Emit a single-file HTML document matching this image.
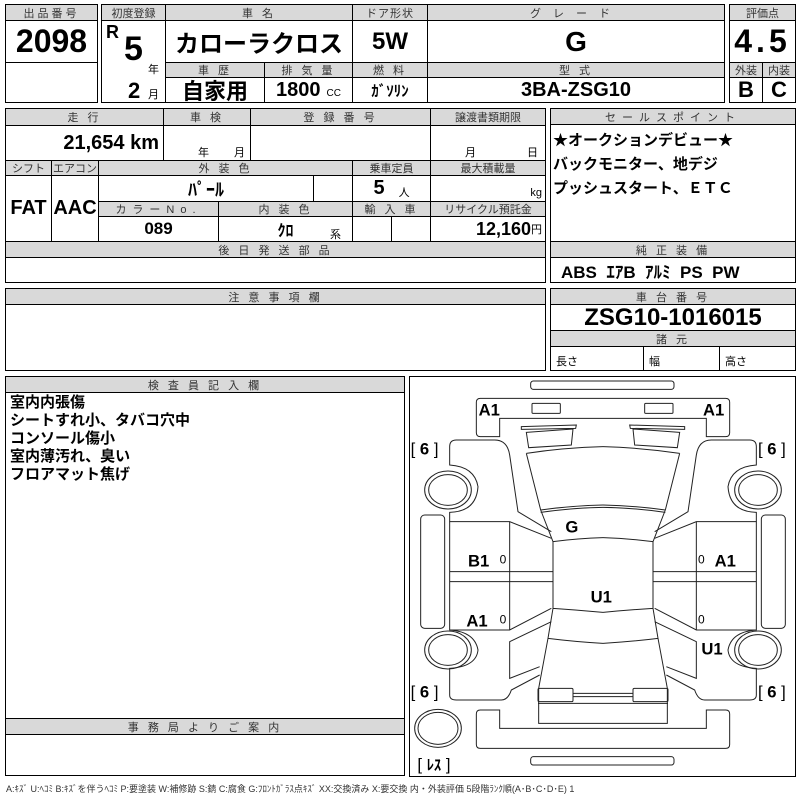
<!DOCTYPE html>
<html><head><meta charset="utf-8"><style>
body{margin:0;width:800px;height:800px;background:#fff;position:relative;overflow:hidden;font-family:"Liberation Sans","Noto Sans CJK JP",sans-serif;}
.c{position:absolute;border:1px solid #000;box-sizing:border-box;display:flex;align-items:center;justify-content:center;color:#000;white-space:nowrap;overflow:hidden}
.h{background:#d9d9d9;font-size:11px;color:#333;letter-spacing:3px}
.v{font-family:"Liberation Sans Narrow","Liberation Sans","Noto Sans CJK JP",sans-serif;font-weight:bold}
.t{position:absolute;white-space:nowrap;color:#000}
</style></head><body>
<div class="c h" style="left:5px;top:4px;width:93px;height:17px">出品番号</div>
<div class="c v" style="left:5px;top:20px;width:93px;height:43px;font-size:32px">2098</div>
<div class="c" style="left:5px;top:62px;width:93px;height:41px"></div>
<div class="c h" style="left:101px;top:4px;width:65px;height:17px;letter-spacing:0">初度登録</div>
<div class="c h" style="left:165px;top:4px;width:188px;height:17px">車 名</div>
<div class="c h" style="left:352px;top:4px;width:76px;height:17px;letter-spacing:1px">ドア形状</div>
<div class="c h" style="left:427px;top:4px;width:298px;height:17px;letter-spacing:12px">グレード</div>
<div class="c" style="left:101px;top:20px;width:65px;height:83px"></div>
<div class="t v" style="left:106px;top:22px;font-size:18px">R</div>
<div class="t v" style="left:124px;top:30px;font-size:34px">5</div>
<div class="t" style="left:148px;top:61px;font-size:11px">年</div>
<div class="t v" style="left:128px;top:78px;font-size:22px">2</div>
<div class="t" style="left:148px;top:86px;font-size:11px">月</div>
<div class="c v" style="left:165px;top:20px;width:188px;height:43px;font-size:24px">カローラクロス</div>
<div class="c v" style="left:352px;top:20px;width:76px;height:43px;font-size:24px">5W</div>
<div class="c v" style="left:427px;top:20px;width:298px;height:43px;font-size:28px">G</div>
<div class="c h" style="left:165px;top:62px;width:100px;height:16px">車 歴</div>
<div class="c h" style="left:264px;top:62px;width:89px;height:16px">排 気 量</div>
<div class="c h" style="left:352px;top:62px;width:76px;height:16px">燃 料</div>
<div class="c h" style="left:427px;top:62px;width:298px;height:16px">型 式</div>
<div class="c v" style="left:165px;top:77px;width:100px;height:26px;font-size:22px">自家用</div>
<div class="c v" style="left:264px;top:77px;width:89px;height:26px;font-size:20px">1800<span style="font-size:10px;font-weight:normal;margin-left:6px;margin-top:6px">CC</span></div>
<div class="c v" style="left:352px;top:77px;width:76px;height:26px;font-size:15px">ｶﾞｿﾘﾝ</div>
<div class="c v" style="left:427px;top:77px;width:298px;height:26px;font-size:20px">3BA-ZSG10</div>
<div class="c h" style="left:729px;top:4px;width:67px;height:17px;letter-spacing:0">評価点</div>
<div class="c v" style="left:729px;top:20px;width:67px;height:43px;font-size:32px;letter-spacing:4px">4.5</div>
<div class="c h" style="left:729px;top:62px;width:34px;height:16px;letter-spacing:0">外装</div>
<div class="c h" style="left:762px;top:62px;width:34px;height:16px;letter-spacing:0">内装</div>
<div class="c v" style="left:729px;top:77px;width:34px;height:26px;font-size:22px">B</div>
<div class="c v" style="left:762px;top:77px;width:34px;height:26px;font-size:22px">C</div>
<div class="c h" style="left:5px;top:108px;width:159px;height:18px">走 行</div>
<div class="c h" style="left:163px;top:108px;width:88px;height:18px">車 検</div>
<div class="c h" style="left:250px;top:108px;width:181px;height:18px">登 録 番 号</div>
<div class="c h" style="left:430px;top:108px;width:116px;height:18px;letter-spacing:0">譲渡書類期限</div>
<div class="c v" style="left:5px;top:125px;width:159px;height:36px;font-size:20px;justify-content:flex-end;padding-right:4px">21,654 km</div>
<div class="c" style="left:163px;top:125px;width:88px;height:36px"></div>
<div class="t" style="left:198px;top:144px;font-size:11px">年</div>
<div class="t" style="left:234px;top:144px;font-size:11px">月</div>
<div class="c" style="left:250px;top:125px;width:181px;height:36px"></div>
<div class="c" style="left:430px;top:125px;width:116px;height:36px"></div>
<div class="t" style="left:465px;top:144px;font-size:11px">月</div>
<div class="t" style="left:527px;top:144px;font-size:11px">日</div>
<div class="c h" style="left:5px;top:160px;width:47px;height:16px;letter-spacing:0">シフト</div>
<div class="c h" style="left:51px;top:160px;width:48px;height:16px;letter-spacing:0">エアコン</div>
<div class="c h" style="left:98px;top:160px;width:255px;height:16px">外 装 色</div>
<div class="c h" style="left:352px;top:160px;width:79px;height:16px;letter-spacing:0">乗車定員</div>
<div class="c h" style="left:430px;top:160px;width:116px;height:16px;letter-spacing:0">最大積載量</div>
<div class="c v" style="left:5px;top:175px;width:47px;height:67px;font-size:20px">FAT</div>
<div class="c v" style="left:51px;top:175px;width:48px;height:67px;font-size:20px">AAC</div>
<div class="c v" style="left:98px;top:175px;width:216px;height:27px;font-size:18px">ﾊﾟｰﾙ</div>
<div class="c" style="left:313px;top:175px;width:40px;height:27px"></div>
<div class="c v" style="left:352px;top:175px;width:79px;height:27px;font-size:20px">5<span style="font-size:11px;font-weight:normal;margin-left:14px;margin-top:6px">人</span></div>
<div class="c" style="left:430px;top:175px;width:116px;height:27px;justify-content:flex-end;padding-right:3px;font-size:11px;padding-top:8px">kg</div>
<div class="c h" style="left:98px;top:201px;width:121px;height:16px;letter-spacing:6px">カラーNo.</div>
<div class="c h" style="left:218px;top:201px;width:135px;height:16px">内 装 色</div>
<div class="c h" style="left:352px;top:201px;width:79px;height:16px">輸 入 車</div>
<div class="c h" style="left:430px;top:201px;width:116px;height:16px;letter-spacing:0">リサイクル預託金</div>
<div class="c v" style="left:98px;top:216px;width:121px;height:26px;font-size:17px">089</div>
<div class="c v" style="left:218px;top:216px;width:135px;height:26px;font-size:16px">ｸﾛ</div>
<div class="t" style="left:330px;top:226px;font-size:11px">系</div>
<div class="c" style="left:352px;top:216px;width:40px;height:26px"></div>
<div class="c" style="left:391px;top:216px;width:40px;height:26px"></div>
<div class="c v" style="left:430px;top:216px;width:116px;height:26px;font-size:18px;justify-content:flex-end;padding-right:3px">12,160<span style="font-size:11px;font-weight:normal">円</span></div>
<div class="c h" style="left:5px;top:241px;width:541px;height:17px">後 日 発 送 部 品</div>
<div class="c" style="left:5px;top:257px;width:541px;height:26px"></div>
<div class="c h" style="left:550px;top:108px;width:246px;height:17px;letter-spacing:6px">セールスポイント</div>
<div class="c" style="left:550px;top:124px;width:246px;height:118px;align-items:flex-start;justify-content:flex-start;font-weight:bold;font-size:15px;line-height:24px;padding:4px 0 0 2px;white-space:pre">★オークションデビュー★
バックモニター、地デジ
プッシュスタート、ＥＴＣ</div>
<div class="c h" style="left:550px;top:241px;width:246px;height:17px">純 正 装 備</div>
<div class="c v" style="left:550px;top:257px;width:246px;height:26px;font-size:17px;justify-content:flex-start;padding-left:10px">ABS&nbsp; ｴｱB&nbsp; ｱﾙﾐ&nbsp; PS&nbsp; PW</div>
<div class="c h" style="left:5px;top:288px;width:541px;height:17px">注 意 事 項 欄</div>
<div class="c" style="left:5px;top:304px;width:541px;height:67px"></div>
<div class="c h" style="left:550px;top:288px;width:246px;height:17px">車 台 番 号</div>
<div class="c v" style="left:550px;top:304px;width:246px;height:27px;font-size:24px">ZSG10-1016015</div>
<div class="c h" style="left:550px;top:330px;width:246px;height:17px">諸 元</div>
<div class="c" style="left:550px;top:346px;width:94px;height:25px;justify-content:flex-start;padding-left:5px;font-size:11px;padding-top:5px">長さ</div>
<div class="c" style="left:643px;top:346px;width:77px;height:25px;justify-content:flex-start;padding-left:5px;font-size:11px;padding-top:5px">幅</div>
<div class="c" style="left:719px;top:346px;width:77px;height:25px;justify-content:flex-start;padding-left:5px;font-size:11px;padding-top:5px">高さ</div>
<div class="c h" style="left:5px;top:376px;width:400px;height:17px">検 査 員 記 入 欄</div>
<div class="c" style="left:5px;top:392px;width:400px;height:327px;align-items:flex-start;justify-content:flex-start;font-weight:bold;font-size:15px;line-height:18px;padding:1px 0 0 4px;white-space:pre">室内内張傷
シートすれ小、タバコ穴中
コンソール傷小
室内薄汚れ、臭い
フロアマット焦げ</div>
<div class="c h" style="left:5px;top:718px;width:400px;height:17px">事 務 局 よ り ご 案 内</div>
<div class="c" style="left:5px;top:734px;width:400px;height:42px"></div>
<div class="c" style="left:409px;top:376px;width:387px;height:401px"></div>
<svg style="position:absolute;left:408px;top:375px" width="392" height="410" viewBox="0 0 1176 1230">
<g fill="none" stroke="#222" stroke-width="3">
<rect x="368" y="18" width="430" height="25" rx="8"/>
<rect x="368" y="1145" width="430" height="25" rx="8"/>
<path d="M205,82 Q205,70 217,70 H953 Q965,70 965,82 V173 Q965,185 953,185 H895 V130 H275 V185 H217 Q205,185 205,173 Z"/>
<rect x="372" y="85" width="85" height="30" rx="3"/><rect x="710" y="85" width="85" height="30" rx="3"/>
<path d="M205,1017 Q205,1005 217,1005 H275 V1060 H895 V1005 H953 Q965,1005 965,1017 V1108 Q965,1120 953,1120 H217 Q205,1120 205,1108 Z"/>
<g id="half">
<path d="M340,155 L505,150 L503,160 L340,163 Z"/>
<path d="M355,172 L495,162 L490,210 L362,218 Z"/>
<path d="M355,235 Q470,218 585,215 M355,235 L398,405"/>
<path d="M398,405 Q490,392 585,390"/>
<path d="M398,405 L435,500 Q510,490 585,488"/>
<path d="M435,500 V700 Q510,705 585,712 M435,700 L420,790 Q500,800 585,805 M420,790 L392,940 V1045 H585"/>
<path d="M398,412 Q500,398 585,397"/>
<rect x="390" y="940" width="105" height="40" rx="4"/>
<path d="M495,955 H585 M495,965 H585"/>
<path d="M390,985 H585"/>
<rect x="38" y="420" width="72" height="340" rx="12"/>
<ellipse cx="120" cy="345" rx="70" ry="57"/><ellipse cx="120" cy="345" rx="58" ry="46"/>
<ellipse cx="120" cy="825" rx="70" ry="57"/><ellipse cx="120" cy="825" rx="58" ry="46"/>
<path d="M430,470 L330,410 L305,240 Q298,195 260,195 H145 Q125,195 125,215 V270 Q200,275 210,335 Q205,410 125,412 V440 H305 L430,490"/>
<path d="M125,440 V765 H305 L430,700 M305,440 V765 M125,590 H435 M125,620 H435"/>
<path d="M430,740 L305,800 V910 L395,875"/>
<path d="M125,765 Q200,770 210,825 Q205,875 125,880 V960 Q125,975 145,975 H280 Q300,975 310,945 L395,900"/>
</g>
<use href="#half" transform="translate(1170,0) scale(-1,1)"/>
<ellipse cx="90" cy="1060" rx="70" ry="57"/><ellipse cx="90" cy="1060" rx="60" ry="48"/>
</g>
<g font-family="Liberation Sans,Noto Sans CJK JP,sans-serif" font-weight="bold" font-size="50" fill="#000">
<text x="212" y="122">A1</text><text x="885" y="122">A1</text>
<text x="8" y="238" font-weight="normal">[ <tspan font-weight="bold">6</tspan> ]</text>
<text x="1050" y="238" font-weight="normal">[ <tspan font-weight="bold">6</tspan> ]</text>
<text x="8" y="968" font-weight="normal">[ <tspan font-weight="bold">6</tspan> ]</text>
<text x="1050" y="968" font-weight="normal">[ <tspan font-weight="bold">6</tspan> ]</text>
<text x="472" y="472">G</text>
<text x="180" y="575">B1</text><text x="920" y="575">A1</text>
<text x="175" y="755">A1</text><text x="548" y="682">U1</text><text x="880" y="838">U1</text>
<text x="275" y="565" font-size="36" font-weight="normal">0</text>
<text x="275" y="745" font-size="36" font-weight="normal">0</text>
<text x="870" y="565" font-size="36" font-weight="normal">0</text>
<text x="870" y="745" font-size="36" font-weight="normal">0</text>
<text x="28" y="1185" font-weight="normal">[ <tspan font-weight="bold" font-size="44">ﾚｽ</tspan> ]</text>
</g>
</svg>
<div class="t" style="left:6px;top:782px;font-size:9px;color:#333;letter-spacing:0">A:ｷｽﾞ U:ﾍｺﾐ B:ｷｽﾞを伴うﾍｺﾐ P:要塗装 W:補修跡 S:錆 C:腐食 G:ﾌﾛﾝﾄｶﾞﾗｽ点ｷｽﾞ XX:交換済み X:要交換 内・外装評価 5段階ﾗﾝｸ順(A･B･C･D･E) 1</div>
</body></html>
